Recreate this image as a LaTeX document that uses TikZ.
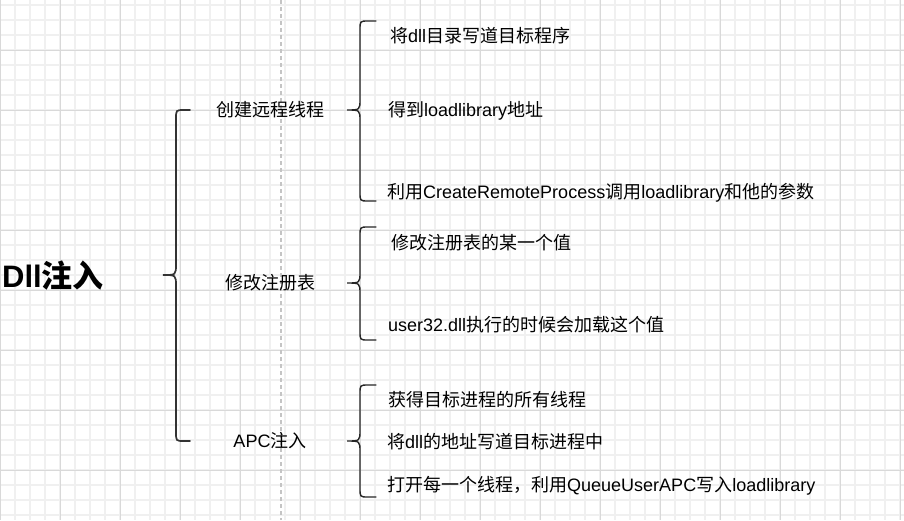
\documentclass[tikz,border=0pt]{standalone}
\usepackage{fontspec}
\setmainfont{Liberation Sans}
\newfontfamily\cjk{Noto Sans CJK SC}
\newcommand\C[1]{{\cjk #1}}
\newcommand\bracepath[6]{% #1 xtip, #2 xv, #3 xend, #4 ytop, #5 ymid, #6 ybot
  \draw[bracestyle] (#3,#4) -- ({#2+8},#4) .. controls (#2,#4) .. (#2,{#4+9})
    -- (#2,{#5-11}) .. controls (#2,#5) .. (#1,#5)
    .. controls (#2,#5) .. (#2,{#5+11})
    -- (#2,{#6-9}) .. controls (#2,#6) .. ({#2+8},#6) -- (#3,#6);}
\definecolor{gminor}{HTML}{F0F0F0}
\definecolor{gmajor}{HTML}{D9D9D9}
\definecolor{dashc}{HTML}{C4C4C4}
\begin{document}
\begin{tikzpicture}[x=1pt,y=-1pt,
  minorline/.style={draw=gminor,line width=1.2pt},
  majorline/.style={draw=gmajor,line width=1pt},
  bracestyle/.style={draw=black!85,line width=1.4pt,line cap=round},
  txt/.style={inner sep=0pt,anchor=west,font=\fontsize{18}{22}\selectfont},
  midtxt/.style={inner sep=0pt,anchor=center,font=\fontsize{18}{22}\selectfont},
]
\useasboundingbox (0,0) rectangle (904,520);
\fill[white] (0,0) rectangle (904,520);
% grid
\foreach \x in {15,30,...,900} \draw[minorline] (\x,0) -- (\x,520);
\foreach \y in {5,20,...,515} \draw[minorline] (0,\y) -- (904,\y);
\foreach \x in {0,60,...,900} \draw[majorline] (\x,0) -- (\x,520);
\foreach \y in {50,110,...,470} \draw[majorline] (0,\y) -- (904,\y);
% dashed guide
\coordinate (gtop) at (281,0);
\coordinate (gbot) at (281,520);
\draw[dashc,line width=1.5pt,dash pattern=on 4pt off 3pt] (gtop) -- (gbot);
% title
\node[inner sep=0pt,anchor=west,font=\fontsize{31}{37}\selectfont\bfseries] (title) at (2,276) {Dll\C{注入}};
% main brace
{\tikzset{bracestyle/.style={draw=black!80,line width=1.7pt,line cap=round}}
\bracepath{163}{176}{190}{110}{275}{441}}
% mid labels
\node[midtxt] (m1) at (270.5,110) {\C{创建远程线程}};
\node[midtxt] (m2) at (270.5,283) {\C{修改注册表}};
\node[midtxt] (m3) at (270,441) {APC\C{注入}};
% right braces
\bracepath{347}{360}{376}{21}{110}{201}
\bracepath{347}{360}{376}{227}{283}{340}
\bracepath{347}{360}{376}{385}{441}{497}
% leaf texts
\node[txt] (a1) at (390,36) {\C{将}dll\C{目录写道目标程序}};
\node[txt] (a2) at (388,111) {\C{得到}loadlibrary\C{地址}};
\node[txt] (a3) at (387,193) {\C{利用}CreateRemoteProcess\C{调用}loadlibrary\C{和他的参数}};
\node[txt] (b1) at (391,243) {\C{修改注册表的某一个值}};
\node[txt] (b2) at (388,325) {user32.dll\C{执行的时候会加载这个值}};
\node[txt] (c1) at (388,400) {\C{获得目标进程的所有线程}};
\node[txt] (c2) at (387,442) {\C{将}dll\C{的地址写道目标进程中}};
\node[txt] (c3) at (387,486) {\C{打开每一个线程，利用}QueueUserAPC\C{写入}loadlibrary};
\end{tikzpicture}
\end{document}
